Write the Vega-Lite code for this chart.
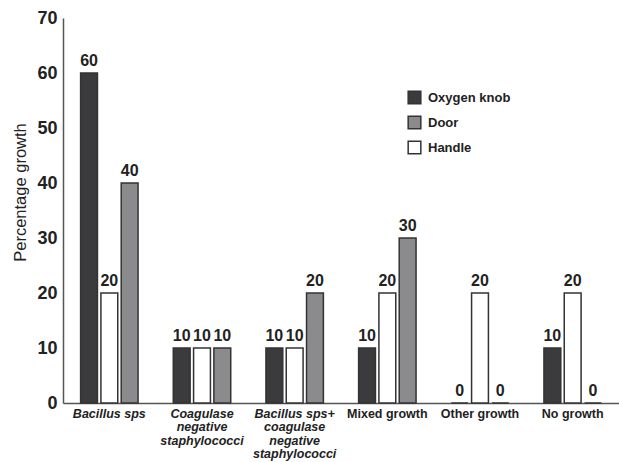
{
  "$schema": "https://vega.github.io/schema/vega-lite/v6.json",
  "autosize": "none",
  "width": 556,
  "height": 385,
  "padding": {"left": 63, "top": 18, "right": 0, "bottom": 59},
  "background": "white",
  "config": {
    "view": {"stroke": null},
    "font": "Liberation Sans, Arial, sans-serif"
  },
  "data": {
    "values": [
      {"category": "Bacillus sps", "series": "Oxygen knob", "value": 60},
      {"category": "Bacillus sps", "series": "Handle", "value": 20},
      {"category": "Bacillus sps", "series": "Door", "value": 40},
      {"category": "Coagulase negative staphylococci", "series": "Oxygen knob", "value": 10},
      {"category": "Coagulase negative staphylococci", "series": "Handle", "value": 10},
      {"category": "Coagulase negative staphylococci", "series": "Door", "value": 10},
      {"category": "Bacillus sps+ coagulase negative staphylococci", "series": "Oxygen knob", "value": 10},
      {"category": "Bacillus sps+ coagulase negative staphylococci", "series": "Handle", "value": 10},
      {"category": "Bacillus sps+ coagulase negative staphylococci", "series": "Door", "value": 20},
      {"category": "Mixed growth", "series": "Oxygen knob", "value": 10},
      {"category": "Mixed growth", "series": "Handle", "value": 20},
      {"category": "Mixed growth", "series": "Door", "value": 30},
      {"category": "Other growth", "series": "Oxygen knob", "value": 0},
      {"category": "Other growth", "series": "Handle", "value": 20},
      {"category": "Other growth", "series": "Door", "value": 0},
      {"category": "No growth", "series": "Oxygen knob", "value": 10},
      {"category": "No growth", "series": "Handle", "value": 20},
      {"category": "No growth", "series": "Door", "value": 0}
    ]
  },
  "encoding": {
    "x": {
      "field": "category",
      "type": "nominal",
      "sort": null,
      "scale": {"paddingInner": 0.38, "paddingOuter": 0.19},
      "axis": {
        "title": null,
        "labelAngle": 0,
        "ticks": false,
        "domainColor": "#555555",
        "domainWidth": 1.5,
        "labelPadding": 4,
        "labelFontSize": 12.5,
        "labelFontWeight": "bold",
        "labelColor": "#222222",
        "labelLineHeight": 13.5,
        "labelBaseline": "top",
        "labelExpr": "datum.value == 'Coagulase negative staphylococci' ? ['Coagulase', 'negative', 'staphylococci'] : datum.value == 'Bacillus sps+ coagulase negative staphylococci' ? ['Bacillus sps+', 'coagulase', 'negative', 'staphylococci'] : datum.value",
        "labelFontStyle": {
          "condition": {"test": "indexof(['Bacillus sps', 'Coagulase negative staphylococci', 'Bacillus sps+ coagulase negative staphylococci'], datum.value) >= 0", "value": "italic"},
          "value": "normal"
        }
      }
    },
    "xOffset": {
      "field": "series",
      "type": "nominal",
      "sort": ["Oxygen knob", "Handle", "Door"],
      "scale": {"paddingInner": 0.17}
    },
    "y": {
      "field": "value",
      "type": "quantitative",
      "scale": {"domain": [0, 70], "nice": false},
      "axis": {
        "title": "Percentage growth",
        "titleFontSize": 16.5,
        "titleFontWeight": "normal",
        "titleColor": "#222222",
        "titlePadding": 8,
        "titleY": 174,
        "values": [0, 10, 20, 30, 40, 50, 60, 70],
        "grid": false,
        "ticks": false,
        "labelPadding": 6,
        "labelFontSize": 18,
        "labelFontWeight": "bold",
        "labelColor": "#222222",
        "domainColor": "#555555",
        "domainWidth": 1.5
      }
    }
  },
  "layer": [
    {
      "mark": {"type": "bar", "stroke": "#333333", "strokeWidth": 1.5},
      "encoding": {
        "fill": {
          "field": "series",
          "type": "nominal",
          "scale": {"domain": ["Oxygen knob", "Door", "Handle"], "range": ["#3b3b3d", "#8b8b8e", "#ffffff"]},
          "legend": {
            "title": null,
            "orient": "none",
            "legendX": 344,
            "legendY": 72,
            "symbolType": "square",
            "symbolSize": 160,
            "symbolStrokeColor": "#333333",
            "symbolStrokeWidth": 1.5,
            "labelFontSize": 13,
            "labelFontWeight": "bold",
            "labelColor": "#222222",
            "rowPadding": 6,
            "labelOffset": 6
          }
        }
      }
    },
    {
      "mark": {"type": "text", "baseline": "bottom", "dy": -4, "fontSize": 16, "fontWeight": "bold", "color": "#222222"},
      "encoding": {
        "text": {"field": "value", "type": "quantitative"}
      }
    }
  ]
}
